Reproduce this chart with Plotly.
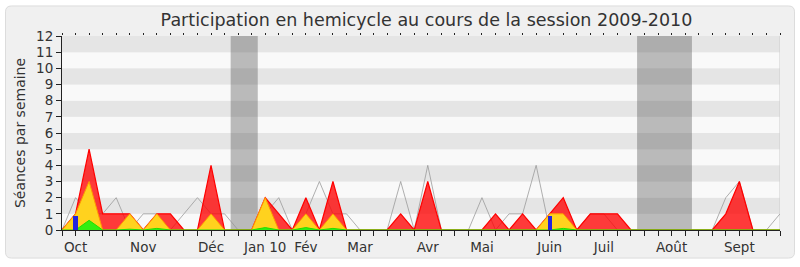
import plotly.graph_objects as go

# ---- data (weekly, session 2009-2010) ----
weeks = list(range(54))
presence = [0,1,5,1,1,1,0,1,1,0, 0,4,0,0,0,2,1,0,2,0,
            3,0,0,0,0,1,0,3,0,0, 0,0,1,0,1,0,1,2,0,1,
            1,1,0,0,0,0,0,0,0,1, 3,0,0,0]
interventions = [0,1,3,0,0,1,0,1,0,0, 0,1,0,0,0,2,0,0,1,0,
                 1,0,0,0,0,0,0,0,0,0, 0,0,0,0,0,0,1,1,0,0,
                 0,0,0,0,0,0,0,0,0,0, 0,0,0,0]
questions = [0,0,0.6,0,0,0.05,0,0.1,0,0, 0,0.03,0,0,0,0.15,0,0,0.15,0,
             0.1,0,0,0,0,0,0,0,0,0, 0,0,0,0,0,0,0,0.1,0,0,
             0,0,0,0,0,0,0,0,0,0, 0,0,0,0]
mediane = [0,2,1,1,2,0,1,1,0,1, 2,1,1,0,0,1,2,0,1,3,
           1,1,0,0,0,3,0,4,0,0, 0,2,0,1,1,4,0,1,0,1,
           1,0,0,0,0,0,0,0,0,2, 3,0,0,1]
rapport_weeks = [1, 36]
rapport_vals = [0.85, 0.85]
vacances = [(12.45, 14.45), (42.45, 46.5)]
month_ticks = {1: "Oct", 6: "Nov", 11: "Déc", 15: "Jan 10", 18: "Fév", 22: "Mar",
               27: "Avr", 31: "Mai", 36: "Juin", 40: "Juil", 45: "Août", 50: "Sept"}
y_max = 12

FONT = "DejaVu Sans"
TXT = "#333333"

fig = go.Figure()
fig.add_trace(go.Scatter(x=weeks, y=mediane, mode="lines",
                         line=dict(color="rgba(150,150,150,0.75)", width=1),
                         hoverinfo="skip", showlegend=False))
fig.add_trace(go.Scatter(x=weeks, y=presence, mode="lines", fill="tozeroy",
                         fillcolor="rgba(255,0,0,0.77)",
                         line=dict(color="#ff0000", width=1.2),
                         showlegend=False))
fig.add_trace(go.Scatter(x=weeks, y=interventions, mode="lines", fill="tozeroy",
                         fillcolor="#ffd21e",
                         line=dict(color="#ff9a00", width=1),
                         showlegend=False))
fig.add_trace(go.Scatter(x=weeks, y=questions, mode="lines", fill="tozeroy",
                         fillcolor="#33ee11",
                         line=dict(color="#22dd00", width=1),
                         showlegend=False))
fig.add_trace(go.Bar(x=rapport_weeks, y=rapport_vals, width=0.32,
                     marker=dict(color="#2424dd", line=dict(width=0)),
                     xaxis="x2", yaxis="y2", showlegend=False))

shapes = []
# outer rounded frame (pixel -> paper conversion)
L, R, T, B = 62, 780, 36, 233
def px(x):
    return (x - L) / (R - L)
def py(y):
    return (B - y) / (B - T)
x0, x1, y0, y1, r = 5.5, 794.5, 5.5, 261.5, 6
path = (f"M {px(x0+r)},{py(y0)} L {px(x1-r)},{py(y0)} Q {px(x1)},{py(y0)} {px(x1)},{py(y0+r)} "
        f"L {px(x1)},{py(y1-r)} Q {px(x1)},{py(y1)} {px(x1-r)},{py(y1)} "
        f"L {px(x0+r)},{py(y1)} Q {px(x0)},{py(y1)} {px(x0)},{py(y1-r)} "
        f"L {px(x0)},{py(y0+r)} Q {px(x0)},{py(y0)} {px(x0+r)},{py(y0)} Z")
shapes.append(dict(type="path", path=path, xref="paper", yref="paper",
                   fillcolor="#f0f0f0", line=dict(color="#dcdcdc", width=1), layer="below"))
# horizontal stripes
for k in range(0, y_max):
    shapes.append(dict(type="rect", xref="x", yref="y", x0=0, x1=53, y0=k, y1=k + 1,
                       fillcolor="#e5e5e5" if k % 2 else "#f9f9f9",
                       line=dict(width=0), layer="below"))
# holidays
for a, b in vacances:
    shapes.append(dict(type="rect", xref="x", yref="y", x0=a, x1=b, y0=0, y1=y_max,
                       fillcolor="rgba(69,69,69,0.35)", line=dict(width=0), layer="below"))
# right border line
shapes.append(dict(type="line", xref="x", yref="y", x0=53, x1=53, y0=0, y1=y_max,
                   line=dict(color="#cccccc", width=1), layer="below"))

fig.update_layout(
    width=800, height=267,
    margin=dict(l=L, r=800 - R, t=T, b=267 - B),
    paper_bgcolor="white", plot_bgcolor="#f9f9f9",
    shapes=shapes,
    bargap=0,
    title=dict(text="Participation en hemicycle au cours de la session 2009-2010",
               x=426.5 / 800, xanchor="center", y=1 - 20 / 267, yanchor="middle",
               font=dict(family=FONT, size=17.5, color=TXT)),
    font=dict(family=FONT, size=13, color=TXT),
    xaxis=dict(range=[0, 53], tickmode="array", tickvals=weeks,
               ticktext=[month_ticks.get(w, "") for w in weeks],
               ticks="outside", ticklen=5, tickcolor="#222222", tickwidth=1,
               showline=True, linecolor="#222222", linewidth=1,
               showgrid=False, zeroline=False,
               tickfont=dict(family=FONT, size=13.5, color=TXT)),
    xaxis2=dict(range=[0, 53], overlaying="x", side="top", tickmode="array",
                tickvals=weeks, showticklabels=False, ticks="outside", ticklen=2,
                tickcolor="#222222", showline=False, showgrid=False, zeroline=False),
    yaxis=dict(range=[0, y_max], dtick=1, ticks="outside", ticklen=5,
               tickcolor="#222222", showline=True, linecolor="#222222", linewidth=1,
               showgrid=False, zeroline=False,
               title=dict(text="Séances par semaine", standoff=7,
                          font=dict(family=FONT, size=14, color=TXT)),
               tickfont=dict(family=FONT, size=13.5, color=TXT)),
    yaxis2=dict(range=[0, y_max], overlaying="y", visible=False),
)

fig.write_html("out.html")
